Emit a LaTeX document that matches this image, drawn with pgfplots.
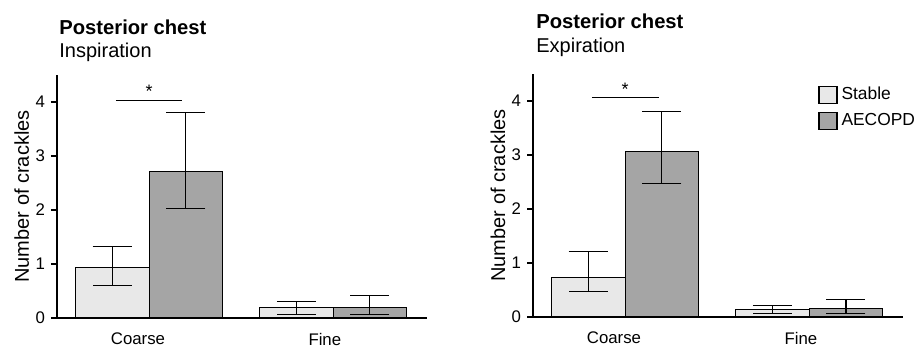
\documentclass[border=0pt]{standalone}
\usepackage{pgfplots}
\pgfplotsset{compat=1.18}
\usepackage{pgfplotstable}
\usepackage{fontspec}
\setmainfont{Liberation Sans}
\setsansfont{Liberation Sans}
\definecolor{stablec}{HTML}{E8E8E8}
\definecolor{aecopdc}{HTML}{A5A5A5}

% x, mean, error plus, error minus
\pgfplotstableread{
x y ep em
-0.2 0.93 0.39 0.32
0.8 0.20 0.10 0.13
}\InspStable
\pgfplotstableread{
x y ep em
0.2 2.72 1.08 0.70
1.2 0.20 0.21 0.13
}\InspAecopd
\pgfplotstableread{
x y ep em
-0.2 0.73 0.48 0.26
0.8 0.13 0.09 0.06
}\ExpStable
\pgfplotstableread{
x y ep em
0.2 3.06 0.74 0.58
1.2 0.16 0.17 0.09
}\ExpAecopd

\pgfplotsset{
  crk/.style={
    scale only axis,
    width=185pt, height=121.5pt,
    xmin=-0.5, xmax=1.51,
    ymin=0, ymax=4.5,
    axis lines*=left,
    axis line style={line width=1pt},
    xtick={-0.06,0.955},
    xticklabels={Coarse,Fine},
    xtick style={draw=none},
    ytick={0,1,2,3,4},
    ytick style={line width=0.6pt, black},
    tick align=outside,
    major tick length=3pt,
    /pgf/number format/assume math mode=true,
    tick label style={font=\fontsize{8.4}{10}\selectfont},
    yticklabel style={xshift=0.5pt},
    xticklabel style={yshift=-1pt},
    ylabel={Number of crackles},
    ylabel style={font=\fontsize{9.8}{11}\selectfont},
    every axis y label/.style={at={(axis description cs:-0.095,0.5)}, anchor=center, rotate=90},
    clip=false,
  },
  crkbar/.style={
    ybar, bar width=0.4, bar shift=0pt,
    draw=black, line width=0.5pt, fill=#1,
    error bars/.cd, y dir=both, y explicit,
    error bar style={line width=0.55pt, black},
    error mark options={line width=0.55pt, black, mark size=9.75pt, rotate=90},
  },
}

\begin{document}
\begin{tikzpicture}[x=1pt,y=1pt]
\useasboundingbox (0,0) rectangle (460,173);

% Left panel
\begin{axis}[crk, at={(28.5pt,14pt)}, anchor=south west]
\addplot[crkbar=stablec] table[x=x, y=y, y error plus=ep, y error minus=em] {\InspStable};
\addplot[crkbar=aecopdc] table[x=x, y=y, y error plus=ep, y error minus=em] {\InspAecopd};
\draw[line width=0.6pt] (axis cs:-0.18,4.03) -- (axis cs:0.18,4.03);
\node[anchor=south, inner sep=0pt, font=\fontsize{9}{10}\selectfont] at (axis cs:0,4.07) {*};
\end{axis}
\node[anchor=base west, inner sep=0pt, font=\fontsize{10.1}{12}\selectfont\bfseries] at (29.5,155.5) {Posterior chest};
\node[anchor=base west, inner sep=0pt, font=\fontsize{10}{12}\selectfont] at (29.5,144) {Inspiration};

% Right panel
\begin{axis}[crk, at={(266.5pt,14.5pt)}, anchor=south west,
  legend style={at={(axis description cs:0.77,0.965)}, anchor=north west, draw=none, fill=none,
    inner sep=0pt, font=\fontsize{8.7}{10}\selectfont, row sep=1.5pt,
    /tikz/every even column/.style={column sep=0pt}},
  legend cell align=left,
  legend image code/.code={\draw[#1, line width=0.6pt] (0pt,-4.25pt) rectangle (9pt,4.25pt);},
]
\addplot[crkbar=stablec] table[x=x, y=y, y error plus=ep, y error minus=em] {\ExpStable};
\addlegendentry{Stable}
\addplot[crkbar=aecopdc] table[x=x, y=y, y error plus=ep, y error minus=em] {\ExpAecopd};
\addlegendentry{AECOPD}
\draw[line width=0.6pt] (axis cs:-0.18,4.06) -- (axis cs:0.185,4.06);
\node[anchor=south, inner sep=0pt, font=\fontsize{9}{10}\selectfont] at (axis cs:0,4.10) {*};
\end{axis}
\node[anchor=base west, inner sep=0pt, font=\fontsize{10.1}{12}\selectfont\bfseries] at (268,158.5) {Posterior chest};
\node[anchor=base west, inner sep=0pt, font=\fontsize{10}{12}\selectfont] at (268,146.5) {Expiration};
\end{tikzpicture}
\end{document}
